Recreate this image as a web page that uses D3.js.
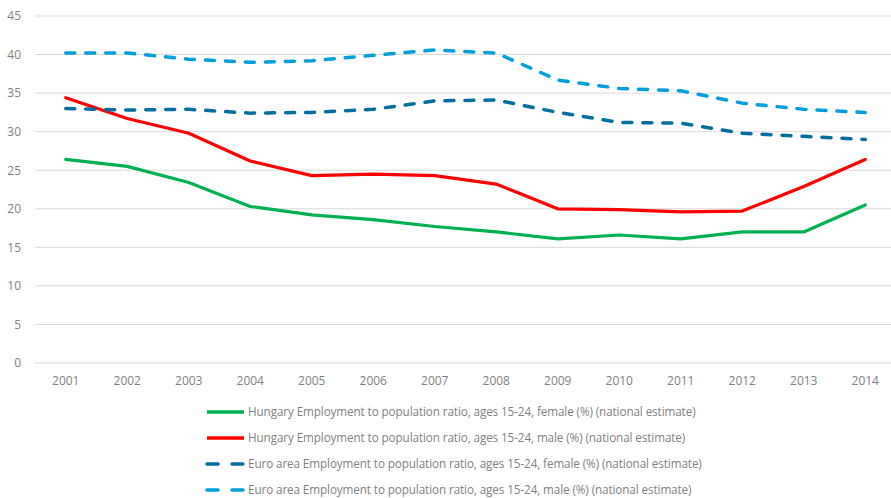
<!DOCTYPE html>
<html>
<head>
<meta charset="utf-8">
<script src="https://cdn.jsdelivr.net/npm/d3@7"></script>
<style>
  html, body { margin: 0; padding: 0; background: #fff; }
  svg { display: block; }
  text { font-family: "Open Sans", sans-serif; }
</style>
</head>
<body>
<svg id="chart" width="891" height="498"></svg>
<script>
// Employment to population ratio, ages 15-24 (%), national estimates
const years = ["2001","2002","2003","2004","2005","2006","2007","2008","2009","2010","2011","2012","2013","2014"];
const yTicks = [0, 5, 10, 15, 20, 25, 30, 35, 40, 45];

const huFemale = [26.4, 25.5, 23.4, 20.3, 19.2, 18.6, 17.7, 17.0, 16.1, 16.6, 16.1, 17.0, 17.0, 20.5];
const huMale   = [34.4, 31.7, 29.8, 26.2, 24.3, 24.5, 24.3, 23.2, 20.0, 19.9, 19.6, 19.7, 22.9, 26.4];
const euFemale = [33.0, 32.8, 32.9, 32.4, 32.5, 32.9, 34.0, 34.1, 32.5, 31.2, 31.1, 29.8, 29.4, 29.0];
const euMale   = [40.2, 40.2, 39.4, 39.0, 39.2, 39.9, 40.6, 40.2, 36.7, 35.6, 35.3, 33.7, 32.9, 32.5];

const seriesNames = [
  "Hungary Employment to population ratio, ages 15-24, female (%) (national estimate)",
  "Hungary Employment to population ratio, ages 15-24, male (%) (national estimate)",
  "Euro area Employment to population ratio, ages 15-24, female (%) (national estimate)",
  "Euro area Employment to population ratio, ages 15-24, male (%) (national estimate)"
];

const series = [
  { name: seriesNames[0], values: huFemale, color: "#00b050", dash: null },
  { name: seriesNames[1], values: huMale,   color: "#ff0000", dash: null },
  { name: seriesNames[2], values: euFemale, color: "#006f9f", dash: "9,11" },
  { name: seriesNames[3], values: euMale,   color: "#009fdc", dash: "9,11" }
];

const svg = d3.select("#chart");
const plot = { left: 35, right: 896, top: 16, bottom: 363 };

const x = d3.scaleBand().domain(years).range([plot.left, plot.right]);
const y = d3.scaleLinear().domain([0, 45]).range([plot.bottom, plot.top]);

// horizontal gridlines
svg.append("g")
  .selectAll("line")
  .data(yTicks)
  .join("line")
  .attr("x1", plot.left).attr("x2", plot.right)
  .attr("y1", d => y(d)).attr("y2", d => y(d))
  .attr("stroke", "#d9d9d9").attr("stroke-width", 1);

// y-axis labels
const yAxis = svg.append("g")
  .attr("transform", `translate(${plot.left - 14},0)`)
  .call(d3.axisLeft(y).tickValues(yTicks).tickSize(0).tickPadding(0));
yAxis.select(".domain").remove();
yAxis.selectAll("text")
  .attr("fill", "#7f7f7f").style("font-size", "12px")
  .style("font-family", "'Open Sans', sans-serif");

// x-axis labels
const xAxis = svg.append("g")
  .attr("transform", `translate(0,${plot.bottom + 10})`)
  .call(d3.axisBottom(x).tickSize(0).tickPadding(3));
xAxis.select(".domain").remove();
xAxis.selectAll("text")
  .attr("fill", "#7f7f7f").style("font-size", "12px")
  .style("font-family", "'Open Sans', sans-serif");

// series lines
const line = d3.line()
  .x((d, i) => x(years[i]) + x.bandwidth() / 2)
  .y(d => y(d));

svg.append("g")
  .selectAll("path")
  .data(series)
  .join("path")
  .attr("d", d => line(d.values))
  .attr("fill", "none")
  .attr("stroke", d => d.color)
  .attr("stroke-width", d => d.dash ? 3.5 : 3.2)
  .attr("stroke-linecap", "round")
  .attr("stroke-linejoin", "round")
  .attr("stroke-dasharray", d => d.dash);

// legend
const legend = svg.append("g").attr("transform", "translate(207,412)");
const rows = legend.selectAll("g")
  .data(series)
  .join("g")
  .attr("transform", (d, i) => `translate(0,${i * 26})`);

rows.append("line")
  .attr("x1", 0).attr("x2", 37)
  .attr("y1", 0).attr("y2", 0)
  .attr("stroke", d => d.color)
  .attr("stroke-width", 3.5)
  .attr("stroke-linecap", d => d.dash ? "round" : "butt")
  .attr("stroke-dasharray", d => d.dash ? "11,14" : null);

rows.append("text")
  .attr("x", 41).attr("y", 0)
  .attr("dy", "0.35em")
  .attr("fill", "#7f7f7f")
  .style("font-size", "11.7px")
  .style("letter-spacing", "-0.1px")
  .text(d => d.name);
</script>
</body>
</html>
